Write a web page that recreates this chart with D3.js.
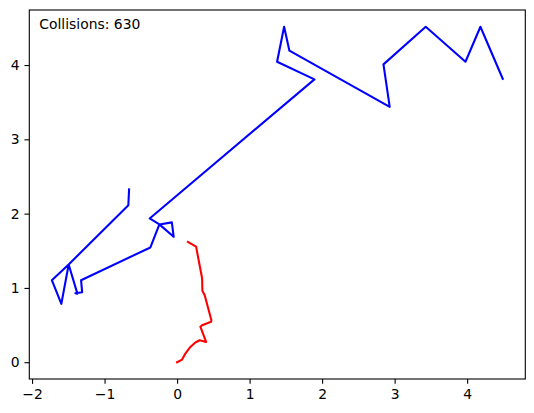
<!DOCTYPE html>
<html lang="en">
<head>
  <meta charset="UTF-8">
  <title>Collisions</title>
  <script src="https://d3js.org/d3.v7.min.js"></script>
  <style>
    body {
      margin: 0;
      background: #fff;
    }
    svg text {
      font-family: "DejaVu Sans", sans-serif;
    }
  </style>
</head>
<body>
  <svg id="chart" width="534" height="413"></svg>

  <script>
    // blue particle path
    const blueX = [-0.662, -0.672, -1.495, -1.727, -1.596, -1.495, -1.375, -1.403, -1.309, -1.324,
                   -0.368, -0.244, -0.072, -0.047, -0.244, -0.378, 1.894, 1.379, 1.476, 1.549,
                   2.932, 2.846, 3.429, 3.977, 4.183, 4.491];
    const blueY = [2.326, 2.114, 1.316, 1.104, 0.785, 1.316, 0.923, 0.929, 0.943, 1.104,
                   1.545, 1.855, 1.882, 1.688, 1.855, 1.935, 3.807, 4.044, 4.515, 4.193,
                   3.438, 4.009, 4.515, 4.044, 4.515, 3.815];

    // red particle path
    const redX = [0, 0.069, 0.114, 0.183, 0.252, 0.312, 0.4, 0.321, 0.345, 0.469,
                  0.473, 0.381, 0.349, 0.345, 0.262, 0.149];
    const redY = [0, 0.036, 0.117, 0.206, 0.265, 0.296, 0.273, 0.478, 0.498, 0.545,
                  0.566, 0.902, 0.963, 1.131, 1.556, 1.62];

    const xTicks = [-2, -1, 0, 1, 2, 3, 4];
    const yTicks = [0, 1, 2, 3, 4];
    const label = "Collisions: 630";

    const svg = d3.select("#chart");
    const margin = { left: 29.3, top: 10, right: 534 - 525.3, bottom: 413 - 379 };
    const w = 534 - margin.left - margin.right;
    const h = 413 - margin.top - margin.bottom;

    const allX = blueX.concat(redX);
    const allY = blueY.concat(redY);
    // matplotlib style 5% padding
    function padded(vals) {
      const [lo, hi] = d3.extent(vals);
      const p = (hi - lo) * 0.05;
      return [lo - p, hi + p];
    }

    const x = d3.scaleLinear().domain(padded(allX)).range([0, w]);
    const y = d3.scaleLinear().domain(padded(allY)).range([h, 0]);

    const g = svg.append("g").attr("transform", `translate(${margin.left},${margin.top})`);

    const line = d3.line().x(d => x(d[0])).y(d => y(d[1]));

    g.append("path")
      .datum(blueX.map((v, i) => [v, blueY[i]]))
      .attr("d", line)
      .attr("fill", "none")
      .attr("stroke", "#0000ff")
      .attr("stroke-width", 2.08)
      .attr("stroke-linejoin", "round")
      .attr("stroke-linecap", "square");

    g.append("path")
      .datum(redX.map((v, i) => [v, redY[i]]))
      .attr("d", line)
      .attr("fill", "none")
      .attr("stroke", "#ff0000")
      .attr("stroke-width", 2.08)
      .attr("stroke-linejoin", "round")
      .attr("stroke-linecap", "square");

    const fmt = d3.format("d");

    const xAxis = g.append("g")
      .attr("transform", `translate(0,${h})`)
      .call(d3.axisBottom(x).tickValues(xTicks).tickFormat(fmt).tickSize(4.86).tickPadding(4.86));

    const yAxis = g.append("g")
      .call(d3.axisLeft(y).tickValues(yTicks).tickFormat(fmt).tickSize(4.86).tickPadding(4.86));

    [xAxis, yAxis].forEach(a => {
      a.select(".domain").remove();
      a.selectAll("line").attr("stroke", "#000").attr("stroke-width", 1.1);
      a.selectAll("text").attr("fill", "#000").style("font-size", "13.9px")
        .style("font-family", '"DejaVu Sans", sans-serif');
    });

    g.append("rect")
      .attr("width", w)
      .attr("height", h)
      .attr("fill", "none")
      .attr("stroke", "#000")
      .attr("stroke-width", 1.1);

    g.append("text")
      .attr("x", 10)
      .attr("y", 19)
      .attr("fill", "#000")
      .style("font-size", "13.9px")
      .text(label);
  </script>
</body>
</html>
